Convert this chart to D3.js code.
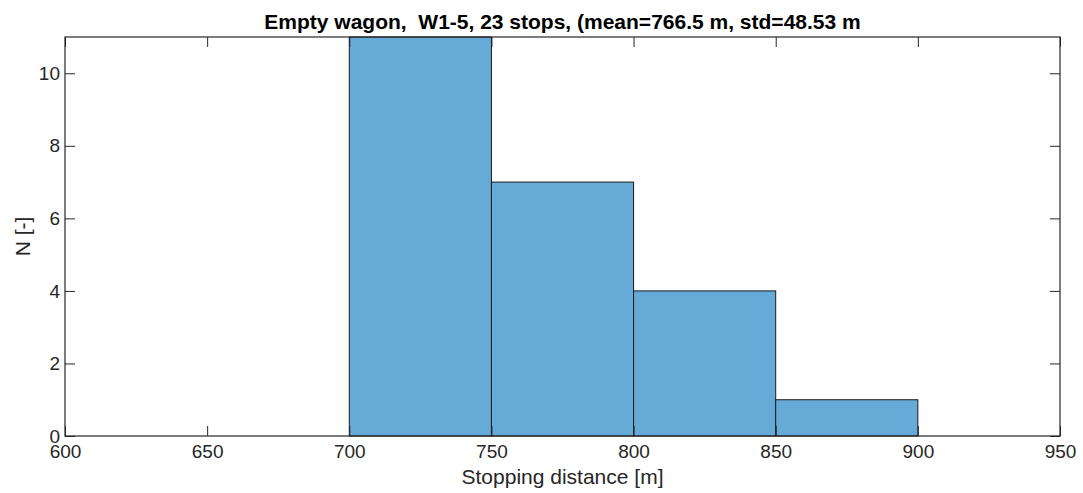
<!DOCTYPE html>
<html><head><meta charset="utf-8">
<script src="https://cdn.jsdelivr.net/npm/d3@7"></script>
<style>body{margin:0;background:#fff}svg{display:block}text{font-family:"Liberation Sans",Arial,sans-serif}</style>
</head><body>
<script>
const binEdges = [700, 750, 800, 850, 900];
const counts = [11, 7, 4, 1];
const xTicks = [600, 650, 700, 750, 800, 850, 900, 950];
const yTicks = [0, 2, 4, 6, 8, 10];
const titleText = "Empty wagon,  W1-5, 23 stops, (mean=766.5 m, std=48.53 m";
const xLabel = "Stopping distance [m]";
const yLabel = "N [-]";

const W = 1083, H = 493;
const m = {l: 65, r: 1060, t: 37, b: 436};
const svg = d3.select("body").append("svg").attr("width", W).attr("height", H);
const x = d3.scaleLinear().domain([600, 950]).range([m.l, m.r]);
const y = d3.scaleLinear().domain([0, 11]).range([m.b, m.t]);
const axisCol = "#262626";

const bins = counts.map((c, i) => ({x0: binEdges[i], x1: binEdges[i + 1], n: c}));
svg.append("g").selectAll("rect").data(bins).join("rect")
  .attr("x", d => x(d.x0)).attr("width", d => x(d.x1) - x(d.x0))
  .attr("y", d => y(d.n)).attr("height", d => y(0) - y(d.n))
  .attr("fill", "#66aad7").attr("stroke", "#1a1a1a").attr("stroke-width", 1);

const fs = 19;
function styleAxis(g) {
  g.select(".domain").remove();
  g.selectAll(".tick line").attr("stroke", axisCol);
  g.selectAll(".tick text").attr("fill", axisCol).attr("font-size", fs);
}
svg.append("g").attr("transform", `translate(0,${m.b})`)
  .call(d3.axisBottom(x).tickValues(xTicks).tickFormat(d3.format("d")).tickSizeInner(-10).tickSizeOuter(0).tickPadding(9))
  .call(styleAxis);
svg.append("g").attr("transform", `translate(0,${m.t})`)
  .call(d3.axisTop(x).tickValues(xTicks).tickFormat("").tickSizeInner(-10).tickSizeOuter(0))
  .call(styleAxis);
svg.append("g").attr("transform", `translate(${m.l},0)`)
  .call(d3.axisLeft(y).tickValues(yTicks).tickFormat(d3.format("d")).tickSizeInner(-10).tickSizeOuter(0).tickPadding(5))
  .call(styleAxis);
svg.append("g").attr("transform", `translate(${m.r},0)`)
  .call(d3.axisRight(y).tickValues(yTicks).tickFormat("").tickSizeInner(-10).tickSizeOuter(0))
  .call(styleAxis);

svg.append("rect").attr("x", m.l).attr("y", m.t).attr("width", m.r - m.l).attr("height", m.b - m.t)
  .attr("fill", "none").attr("stroke", axisCol).attr("stroke-width", 1.2);

svg.append("text").attr("x", (m.l + m.r) / 2).attr("y", 29).attr("text-anchor", "middle")
  .attr("font-size", 21).attr("font-weight", "bold").attr("fill", "#000").style("white-space", "pre").text(titleText);
svg.append("text").attr("x", (m.l + m.r) / 2).attr("y", 484).attr("text-anchor", "middle")
  .attr("font-size", 21).attr("fill", axisCol).text(xLabel);
svg.append("text").attr("transform", `translate(30,${(m.t + m.b) / 2}) rotate(-90)`).attr("text-anchor", "middle")
  .attr("font-size", 21).attr("fill", axisCol).text(yLabel);
</script>
</body></html>
